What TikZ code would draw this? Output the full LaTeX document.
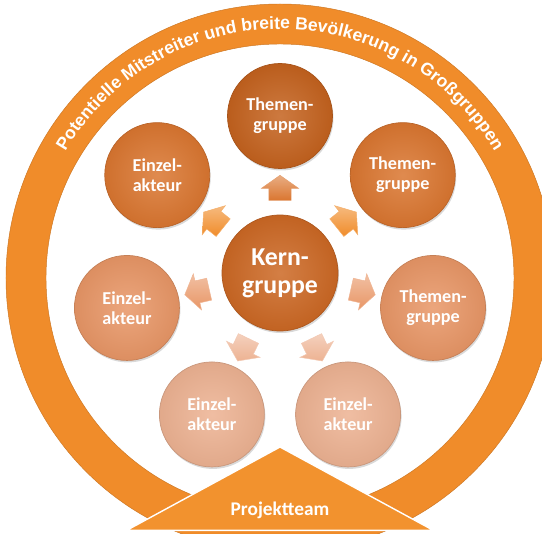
\documentclass[tikz,border=0pt]{standalone}
\usepackage{fontspec}
\setmainfont{Carlito}
\newfontfamily\ringfont{Liberation Sans}
\usepackage{tikz}
\usetikzlibrary{shapes.arrows}
\usetikzlibrary{shadows}
\usetikzlibrary{decorations.text}
\definecolor{ringorange}{RGB}{240,140,42}
\definecolor{teamorange}{RGB}{242,146,46}
\definecolor{kerncol}{RGB}{204,104,36}
\definecolor{darkcol}{RGB}{196,98,30}
\definecolor{midcol}{RGB}{218,118,48}
\definecolor{lightcol}{RGB}{232,150,102}
\definecolor{palecol}{RGB}{237,178,146}
\newcommand\ringstyle{\ringfont\bfseries\fontsize{15}{15}\selectfont\color{white}}
\tikzset{
  main node/.style={circle,draw=#1!85!black,line width=0.6pt,
    inner color=#1!85!white,outer color=#1!95!black,
    drop shadow={opacity=0.3,shadow xshift=0.03cm,shadow yshift=-0.06cm},
    text=white,font=\fontsize{15.5}{17}\selectfont\bfseries,align=center,
    minimum size=3.15cm},
  kern node/.style={main node=kerncol,minimum size=3.48cm,
    font=\fontsize{22}{24}\selectfont\bfseries},
  arrow node/.style={single arrow,draw=#1!70!white,line width=0.4pt,
    top color=#1!60!white,bottom color=#1,
    minimum height=0.75cm,single arrow head extend=0.22cm,
    single arrow tip angle=110,inner xsep=0pt,inner ysep=0.33cm,
    sloped,allow upside down},
  team node/.style={text=white,font=\fontsize{16.5}{18}\selectfont\bfseries}
}
\begin{document}
\begin{tikzpicture}
	\useasboundingbox (-8.4,-7.8) rectangle (7.86,8.19);
	\fill[ringorange,draw=ringorange!85!black,line width=0.4pt,even odd rule]
	  (0,-0.15) circle (8.22) circle (7.02);
	\path[decorate,decoration={text along path,text align=center,
	  text={|\ringstyle|Potentielle Mitstreiter und breite Bevölkerung in Großgruppen}}]
	  (0,-0.15) ++(175:7.47) arc[start angle=175,end angle=5,radius=7.47];
	\fill[teamorange,draw=white,line width=1.2pt]
	  (0,-5.22) -- (4.6,-7.72) -- (-4.6,-7.72) -- cycle;
	\node[team node,anchor=base] (team) at (0,-7.26) {Projektteam};
	\node[kern node] (kern) at (0,0) {Kern-\\gruppe};
	\node[main node=darkcol] (t1) at (90:4.71) {Themen-\\gruppe};
	\node[main node=midcol] (t2) at (38.57:4.71) {Themen-\\gruppe};
	\node[main node=lightcol] (t3) at (-12.86:4.71) {Themen-\\gruppe};
	\node[main node=palecol] (e1) at (-64.29:4.71) {Einzel-\\akteur};
	\node[main node=palecol] (e2) at (-115.71:4.71) {Einzel-\\akteur};
	\node[main node=lightcol] (e3) at (192.86:4.71) {Einzel-\\akteur};
	\node[main node=midcol] (e4) at (141.43:4.71) {Einzel-\\akteur};
	\path (kern) -- (t1) node[midway,arrow node=midcol] (a1) {};
	\path (kern) -- (t2) node[midway,arrow node=ringorange] (a2) {};
	\path (kern) -- (t3) node[midway,arrow node=lightcol] (a3) {};
	\path (kern) -- (e1) node[midway,arrow node=palecol] (a4) {};
	\path (kern) -- (e2) node[midway,arrow node=palecol] (a5) {};
	\path (kern) -- (e3) node[midway,arrow node=lightcol] (a6) {};
	\path (kern) -- (e4) node[midway,arrow node=ringorange] (a7) {};
\end{tikzpicture}
\end{document}
